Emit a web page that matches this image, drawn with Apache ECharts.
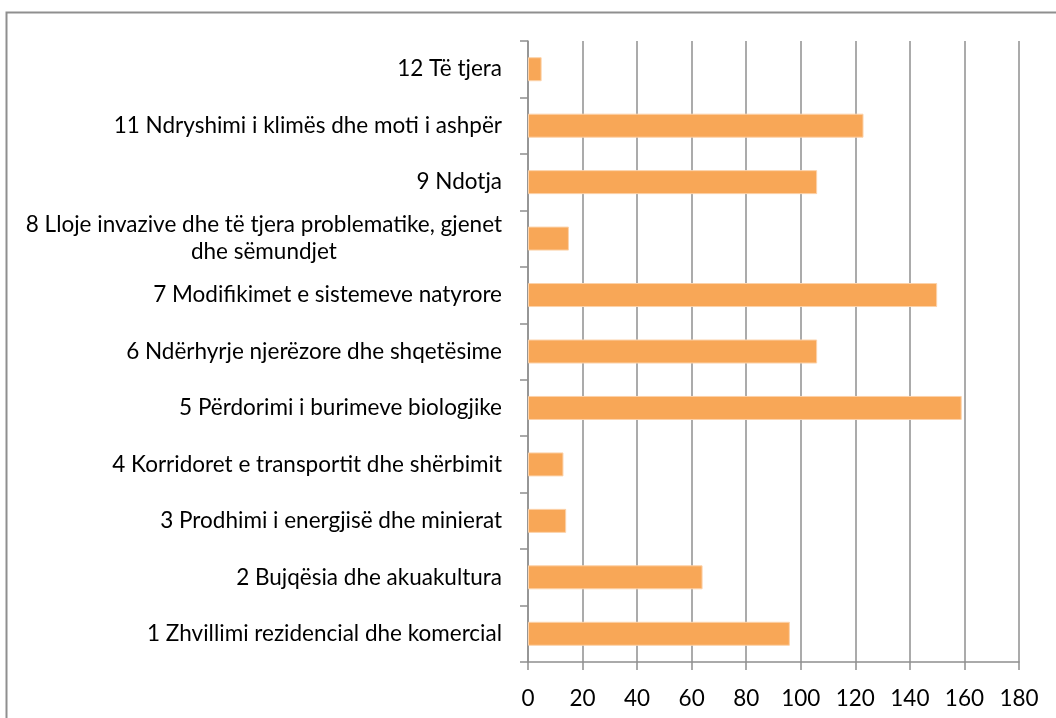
<!DOCTYPE html>
<html><head><meta charset="utf-8">
<script src="https://cdn.jsdelivr.net/npm/echarts@6/dist/echarts.min.js"></script>
<style>html,body{margin:0;padding:0;background:#fff}#c{width:1056px;height:718px}</style>
</head><body><div id="c"></div>
<script>
const categories = [
  "1 Zhvillimi rezidencial dhe komercial",
  "2 Bujqësia dhe akuakultura",
  "3 Prodhimi i energjisë dhe minierat",
  "4 Korridoret e transportit dhe shërbimit",
  "5 Përdorimi i burimeve biologjike",
  "6 Ndërhyrje njerëzore dhe shqetësime",
  "7 Modifikimet e sistemeve natyrore",
  "8 Lloje invazive dhe të tjera problematike, gjenet\ndhe sëmundjet",
  "9 Ndotja",
  "11 Ndryshimi i klimës dhe moti i ashpër",
  "12 Të tjera"
];
const values = [96, 64, 14, 13, 159, 106, 150, 15, 106, 123, 5];
const xMin = 0, xMax = 180, xStep = 20;

const chart = echarts.init(document.getElementById('c'), null, {renderer: 'canvas'});
const FONT = 'Lato';
const FS = 22.5;
chart.setOption({
  animation: false,
  backgroundColor: '#fff',
  graphic: [{
    type: 'rect', left: 4, top: 10,
    shape: {width: 1200, height: 900},
    style: {fill: 'none', stroke: '#8f8f8f', lineWidth: 2},
    silent: true
  }],
  grid: {left: 528, top: 41, right: 37, bottom: 56, containLabel: false},
  xAxis: {
    type: 'value', min: xMin, max: xMax, interval: xStep,
    axisLine: {show: true, lineStyle: {color: '#8f8f8f', width: 1.5}},
    axisTick: {show: true, length: 8, lineStyle: {color: '#8f8f8f', width: 1.5}},
    splitLine: {show: true, lineStyle: {color: '#8f8f8f', width: 1.5}},
    axisLabel: {color: '#000', fontFamily: FONT, fontSize: FS, margin: 25}
  },
  yAxis: {
    type: 'category', data: categories,
    axisLine: {show: true, lineStyle: {color: '#8f8f8f', width: 1.5}},
    axisTick: {show: true, length: 8, alignWithLabel: false, lineStyle: {color: '#8f8f8f', width: 1.5}},
    splitLine: {show: false},
    axisLabel: {
      color: '#000', fontFamily: FONT, fontSize: FS, margin: 26, lineHeight: 27,
      formatter: function (v) { return v.split('\n').map(function (s) { return '{c|' + s + '}'; }).join('\n'); },
      rich: {c: {align: 'center', fontFamily: FONT, fontSize: FS, color: '#000', lineHeight: 27}}
    }
  },
  series: [{
    type: 'bar', data: values, barWidth: 24,
    itemStyle: {color: '#F8A757', borderColor: '#FCD2AA', borderWidth: 1}
  }]
});
</script></body></html>
